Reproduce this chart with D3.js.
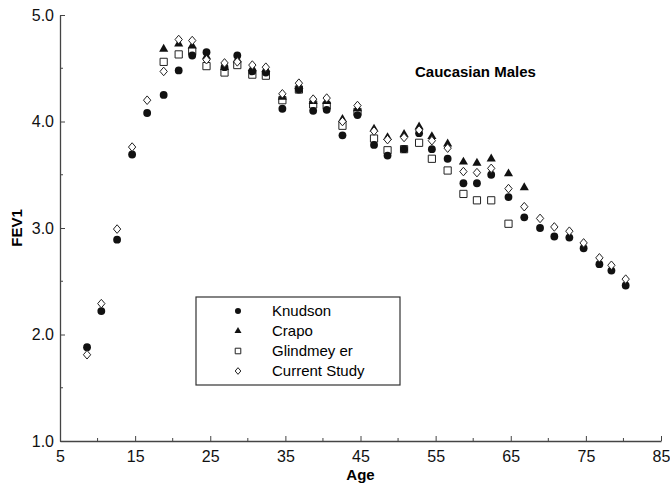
<!DOCTYPE html>
<html>
<head>
<meta charset="utf-8">
<script src="https://cdn.jsdelivr.net/npm/d3@7"></script>
<style>
  body { margin: 0; background: #fff; }
  svg { display: block; font-family: 'Liberation Sans', Arial, Helvetica, sans-serif; }
</style>
</head>
<body>
<div class="chart"></div>
<script>
// data (FEV1 in litres by age)
const ages = [8.6, 10.5, 12.6, 14.6, 16.6, 18.8, 20.8, 22.6, 24.5, 26.9, 28.6, 30.6, 32.4, 34.6, 36.8, 38.7, 40.5,
              42.6, 44.6, 46.8, 48.6, 50.8, 52.8, 54.5, 56.6, 58.7, 60.5, 62.4, 64.7, 66.8, 68.9, 70.8, 72.8,
              74.7, 76.8, 78.4, 80.3];
const knudson = [1.88, 2.22, 2.89, 3.69, 4.08, 4.25, 4.48, 4.62, 4.65, 4.51, 4.62, 4.47, 4.46, 4.12, 4.30, 4.10, 4.11,
                 3.87, 4.06, 3.78, 3.68, 3.74, 3.89, 3.74, 3.65, 3.42, 3.42, 3.50, 3.29, 3.10, 3.00, 2.92, 2.91,
                 2.81, 2.66, 2.60, 2.46];
const crapo = [null, null, null, null, null, 4.68, 4.73, 4.71, 4.61, 4.51, 4.58, 4.50, 4.49, 4.23, 4.33, 4.19, 4.19,
               4.02, 4.12, 3.93, 3.85, 3.88, 3.95, 3.86, 3.79, 3.62, 3.61, 3.65, 3.51, 3.38, null, null, null,
               null, null, null, null];
const glindmeyer = [null, null, null, null, null, 4.56, 4.63, 4.66, 4.52, 4.46, 4.53, 4.44, 4.43, 4.20, 4.30, 4.16, 4.15,
                    3.96, 4.09, 3.84, 3.73, 3.74, 3.80, 3.65, 3.54, 3.32, 3.26, 3.26, 3.04, null, null, null, null,
                    null, null, null, null];
const current_study = [1.81, 2.29, 2.99, 3.76, 4.20, 4.47, 4.77, 4.76, 4.58, 4.55, 4.56, 4.53, 4.51, 4.26, 4.36, 4.21, 4.22,
                       4.00, 4.15, 3.91, 3.83, 3.85, 3.92, 3.82, 3.75, 3.53, 3.52, 3.56, 3.37, 3.20, 3.09, 3.01, 2.97,
                       2.86, 2.72, 2.65, 2.52];
const x_ticks = [5, 15, 25, 35, 45, 55, 65, 75, 85];
const y_ticks = [1, 2, 3, 4, 5];

// squat diamond, closer to the printed marker than d3.symbolDiamond
const squat_diamond = {
    draw(ctx, size) {
        const h = Math.sqrt(size) * 0.68;
        const w = h * 0.85;
        ctx.moveTo(0, -h);
        ctx.lineTo(w, 0);
        ctx.lineTo(0, h);
        ctx.lineTo(-w, 0);
        ctx.closePath();
    }
};

const series = [
    {name: 'Glindmeyer', values: glindmeyer, type: d3.symbolSquare, size: 52, filled: false},
    {name: 'Knudson', values: knudson, type: d3.symbolCircle, size: 48, filled: true},
    {name: 'Crapo', values: crapo, type: d3.symbolTriangle, size: 36, filled: true},
    {name: 'Current Study', values: current_study, type: squat_diamond, size: 40, filled: false}
];
const legend_order = ['Knudson', 'Crapo', 'Glindmeyer', 'Current Study'];

const svg_width = 670;
const svg_height = 486;
const margin = {top: 15, right: 9, bottom: 45, left: 60};

const svg = d3.select('.chart').append('svg')
    .attr('width', svg_width)
    .attr('height', svg_height);

const x_scale = d3.scaleLinear().domain([5, 85]).range([margin.left, svg_width - margin.right]);
const y_scale = d3.scaleLinear().domain([1, 5]).range([svg_height - margin.bottom, margin.top]);

const axis_color = '#444';

// x axis, ticks point inward
const x_axis = svg.append('g')
    .attr('transform', `translate(0, ${y_scale(1)})`)
    .call(d3.axisBottom(x_scale).tickValues(x_ticks).tickFormat(d3.format('d')).tickSizeInner(-5).tickSizeOuter(0));
x_axis.append('g').selectAll('line')
    .data(d3.range(10, 85, 10))
    .join('line')
    .attr('x1', d => x_scale(d)).attr('x2', d => x_scale(d))
    .attr('y1', 0).attr('y2', -3)
    .attr('stroke', axis_color);

// y axis
const y_axis = svg.append('g')
    .attr('transform', `translate(${x_scale(5)}, 0)`)
    .call(d3.axisLeft(y_scale).tickValues(y_ticks).tickFormat(d3.format('.1f')).tickSizeInner(-5).tickSizeOuter(0));
y_axis.append('g').selectAll('line')
    .data([1.5, 2.5, 3.5, 4.5])
    .join('line')
    .attr('y1', d => y_scale(d)).attr('y2', d => y_scale(d))
    .attr('x1', 0).attr('x2', 3)
    .attr('stroke', axis_color);

[x_axis, y_axis].forEach(ax => {
    ax.select('.domain').attr('stroke', axis_color).attr('stroke-width', 1.3);
    ax.selectAll('.tick line').attr('stroke', axis_color);
    ax.selectAll('text').style('font-size', '16px').attr('fill', '#111').style('font-family', "'Liberation Sans', Arial, sans-serif");
});
x_axis.selectAll('.tick text').attr('dy', '1.05em').attr('y', 4);
y_axis.selectAll('.tick text').attr('x', -6);

// axis titles
svg.append('text')
    .attr('x', x_scale(45)).attr('y', 480)
    .attr('text-anchor', 'middle')
    .style('font-size', '15px').style('font-weight', 'bold')
    .text('Age');
svg.append('text')
    .attr('transform', `translate(22, ${y_scale(3)}) rotate(-90)`)
    .attr('text-anchor', 'middle')
    .style('font-size', '15px').style('font-weight', 'bold')
    .text('FEV1');

svg.append('text')
    .attr('x', 415).attr('y', 77)
    .style('font-size', '15px').style('font-weight', 'bold')
    .text('Caucasian Males');

// points
series.forEach(s => {
    const pts = ages.map((a, i) => ({age: a, v: s.values[i]})).filter(d => d.v != null);
    svg.append('g').selectAll('path')
        .data(pts)
        .join('path')
        .attr('d', d3.symbol().type(s.type).size(s.size))
        .attr('transform', d => `translate(${x_scale(d.age)}, ${y_scale(d.v)})`)
        .attr('fill', s.filled ? '#111' : '#fff')
        .attr('stroke', s.filled ? 'none' : '#222')
        .attr('stroke-width', 1);
});

// legend
const legend = svg.append('g').attr('transform', 'translate(196, 297)');
legend.append('rect')
    .attr('width', 204).attr('height', 88)
    .attr('fill', '#fff').attr('stroke', '#333').attr('stroke-width', 1.2);
legend_order.forEach((name, i) => {
    const s = series.find(d => d.name === name);
    const row = legend.append('g').attr('transform', `translate(0, ${14 + i * 20})`);
    row.append('path')
        .attr('d', d3.symbol().type(s.type).size(s.size * 0.6))
        .attr('transform', 'translate(42, 0)')
        .attr('fill', s.filled ? '#111' : '#fff')
        .attr('stroke', s.filled ? 'none' : '#222');
    row.append('text')
        .attr('x', 76).attr('dy', '0.35em')
        .style('font-size', '15px')
        .text(name === 'Glindmeyer' ? 'Glindmey er' : name);
});
</script>
</body>
</html>
